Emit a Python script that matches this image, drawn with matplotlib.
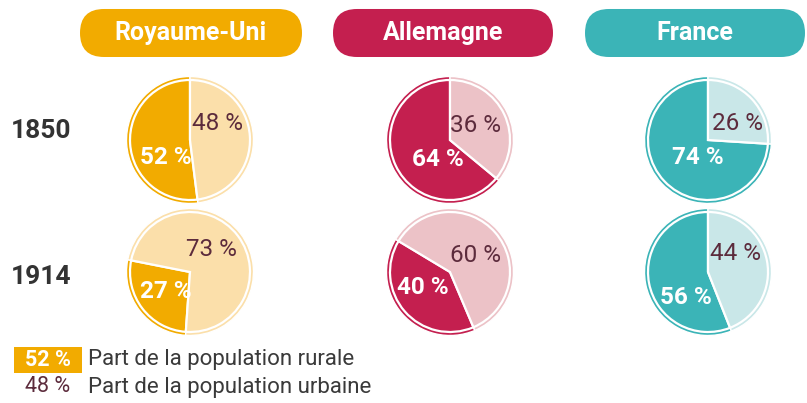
import matplotlib
matplotlib.use("Agg")
import matplotlib.pyplot as plt
from matplotlib.patches import FancyBboxPatch

countries = ["Royaume-Uni", "Allemagne", "France"]
years = ["1850", "1914"]
rural = {"1850": [52, 64, 74], "1914": [27, 40, 56]}
urban = {"1850": [48, 36, 26], "1914": [73, 60, 44]}
dark_colors = ["#f2ab00", "#c41f4f", "#3bb4b7"]
light_colors = ["#fbdfaa", "#ecc2c7", "#c9e7e8"]
urban_text = "#5c2b3c"

W, H = 807, 403
fig = plt.figure(figsize=(W / 100, H / 100), dpi=100)
ax = fig.add_axes([0, 0, 1, 1])

FONT = ["Roboto", "DejaVu Sans"]

col_x = [190, 450, 708]
row_y = [H - 140, H - 272]
box_x = [(80, 302), (333, 553), (585, 805)]
R = 60

# clockwise angle from 12 o'clock where the rural slice begins
rural_start = {"1850": [172.8, 129.6, 93.6], "1914": [184, 157, 158.4]}

urban_off = {"1850": [(28, -16), (26, -14), (29, -16)], "1914": [(21, -22), (26, -17), (28, -19)]}
rural_off = {"1850": [(-24, 18), (-12, 20), (-10, 18)], "1914": [(-24, 19), (-27, 15), (-22, 25)]}

for i, c in enumerate(countries):
    x0, x1 = box_x[i]
    bh = 48
    box = FancyBboxPatch((x0 + bh / 2, H - 57 + bh / 2), (x1 - x0) - bh, 0.01,
                         boxstyle=f"round,pad={bh/2}",
                         facecolor=dark_colors[i], edgecolor="none")
    ax.add_patch(box)
    ax.text((x0 + x1) / 2, H - 33, c, ha="center", va="center", color="white",
            fontsize=18, fontweight="bold", family=FONT)

    for j, yr in enumerate(years):
        cx, cy = col_x[i], row_y[j]
        vals = [rural[yr][i], urban[yr][i]]
        cols = [dark_colors[i], light_colors[i]]
        sa = 90 - rural_start[yr][i]
        ax.pie(vals, colors=cols, center=(cx, cy), radius=R + 3.5, startangle=sa,
               counterclock=False, wedgeprops=dict(edgecolor="white", linewidth=1.0))
        ax.pie(vals, colors=cols, center=(cx, cy), radius=R, startangle=sa,
               counterclock=False, wedgeprops=dict(edgecolor="white", linewidth=1.6))
        ux, uy = urban_off[yr][i]
        rx, ry = rural_off[yr][i]
        ax.text(cx + ux, cy - uy, f"{urban[yr][i]} %", ha="center", va="center",
                color=urban_text, fontsize=17.5, family=FONT)
        ax.text(cx + rx, cy - ry, f"{rural[yr][i]} %", ha="center", va="center",
                color="white", fontsize=17.5, fontweight="bold", family=FONT)

ax.set_xlim(0, W)
ax.set_ylim(0, H)
ax.set_aspect("equal")
ax.axis("off")

row_label_y = [H - 131, H - 277]
for j, yr in enumerate(years):
    ax.text(11, row_label_y[j], yr, ha="left", va="center",
            color="#333333", fontsize=19, fontweight="bold", family=FONT)

ax.add_patch(plt.Rectangle((14, H - 373), 68, 26, facecolor=dark_colors[0], edgecolor="none"))
ax.text(48, H - 360, "52 %", ha="center", va="center", color="white",
        fontsize=15.5, fontweight="bold", family=FONT)
ax.text(88, H - 360, "Part de la population rurale", ha="left", va="center",
        color="#3a3a3a", fontsize=16, family=FONT)
ax.text(48, H - 387, "48 %", ha="center", va="center", color=urban_text,
        fontsize=15.5, family=FONT)
ax.text(88, H - 387, "Part de la population urbaine", ha="left", va="center",
        color="#3a3a3a", fontsize=16, family=FONT)

fig.savefig("out.png", dpi=100)
